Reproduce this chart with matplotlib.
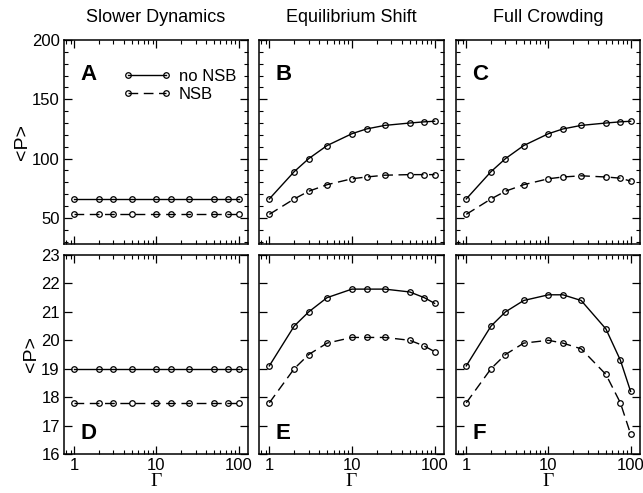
import matplotlib
matplotlib.use("Agg")
import matplotlib.pyplot as plt
from matplotlib.ticker import LogLocator, NullFormatter, FixedLocator, MultipleLocator

plt.rcParams["font.family"] = "Liberation Sans"
plt.rcParams["font.size"] = 12

# data
gamma = [1, 2, 3, 5, 10, 15, 25, 50, 75, 100]
titles = ["Slower Dynamics", "Equilibrium Shift", "Full Crowding"]
letters = ["A", "B", "C", "D", "E", "F"]

a_nonsb = [66, 66, 66, 66, 66, 66, 66, 66, 66, 66]
a_nsb = [53, 53, 53, 53, 53, 53, 53, 53, 53, 53]
b_nonsb = [66, 89, 100, 111, 121, 125, 128, 130, 131, 131.5]
b_nsb = [53, 66, 72.5, 78, 83, 84.5, 86, 86.5, 86.5, 86.5]
c_nonsb = [66, 89, 100, 111, 121, 125, 128, 130, 131, 131.5]
c_nsb = [53, 66, 72.5, 78, 83, 84.5, 85.5, 84.5, 83.5, 81]
d_nonsb = [19.0, 19.0, 19.0, 19.0, 19.0, 19.0, 19.0, 19.0, 19.0, 19.0]
d_nsb = [17.8, 17.8, 17.8, 17.8, 17.8, 17.8, 17.8, 17.8, 17.8, 17.8]
e_nonsb = [19.1, 20.5, 21.0, 21.5, 21.8, 21.8, 21.8, 21.7, 21.5, 21.3]
e_nsb = [17.8, 19.0, 19.5, 19.9, 20.1, 20.1, 20.1, 20.0, 19.8, 19.6]
f_nonsb = [19.1, 20.5, 21.0, 21.4, 21.6, 21.6, 21.4, 20.4, 19.3, 18.2]
f_nsb = [17.8, 19.0, 19.5, 19.9, 20.0, 19.9, 19.7, 18.8, 17.8, 16.7]

series = [(a_nonsb, a_nsb), (b_nonsb, b_nsb), (c_nonsb, c_nsb),
          (d_nonsb, d_nsb), (e_nonsb, e_nsb), (f_nonsb, f_nsb)]

W, H = 643, 493
cols = [(64, 248), (259, 444), (456, 640)]
rows = [(40, 244), (255, 454)]

fig = plt.figure(figsize=(W / 100, H / 100), dpi=100)
style = dict(color="black", lw=1.0, marker="o", ms=4, mfc="none", mec="black", mew=0.9)

for i in range(6):
    r, c = divmod(i, 3)
    x0, x1 = cols[c]
    y0, y1 = rows[r]
    ax = fig.add_axes([x0 / W, 1 - y1 / H, (x1 - x0) / W, (y1 - y0) / H])
    yn, yd = series[i]
    ax.plot(gamma, yn, ls="-", label="no NSB", **style)
    ax.plot(gamma, yd, ls=(0, (7, 4)), label="NSB", **style)
    ax.set_xscale("log")
    ax.set_xlim(0.75, 130)
    ax.xaxis.set_major_locator(FixedLocator([1, 10, 100]))
    ax.xaxis.set_minor_locator(LogLocator(base=10, subs=range(2, 10)))
    ax.xaxis.set_minor_formatter(NullFormatter())
    if r == 0:
        ax.set_ylim(28, 200)
        ax.yaxis.set_major_locator(FixedLocator([50, 100, 150, 200]))
        ax.yaxis.set_minor_locator(MultipleLocator(10))
        ax.set_title(titles[c], fontsize=13, pad=13)
        ax.text(0.09, 0.88, letters[i], transform=ax.transAxes, fontsize=16,
                fontweight="bold", ha="left", va="top")
        ax.set_xticklabels([])
    else:
        ax.set_ylim(16, 23)
        ax.yaxis.set_major_locator(MultipleLocator(1))
        ax.text(0.09, 0.05, letters[i], transform=ax.transAxes, fontsize=16,
                fontweight="bold", ha="left", va="bottom")
        ax.set_xticklabels(["1", "10", "100"])
        ax.set_xlabel("Γ", family="Liberation Serif", fontsize=14, labelpad=0)
    if c == 0:
        ax.set_ylabel("<P>", fontsize=14, labelpad=1)
    else:
        ax.set_yticklabels([])
    ax.tick_params(which="both", direction="in", top=True, right=True, labelsize=12, pad=3)
    ax.tick_params(which="major", length=6, width=0.9)
    ax.tick_params(which="minor", length=3, width=0.8)
    for sp in ax.spines.values():
        sp.set_linewidth(1.1)
    if i == 0:
        ax.legend(loc="upper left", bbox_to_anchor=(0.32, 0.86), frameon=False,
                  numpoints=2, handlelength=2.9, handletextpad=0.45,
                  labelspacing=0.2, borderpad=0, borderaxespad=0, fontsize=12)

fig.savefig("out.png", dpi=100)
